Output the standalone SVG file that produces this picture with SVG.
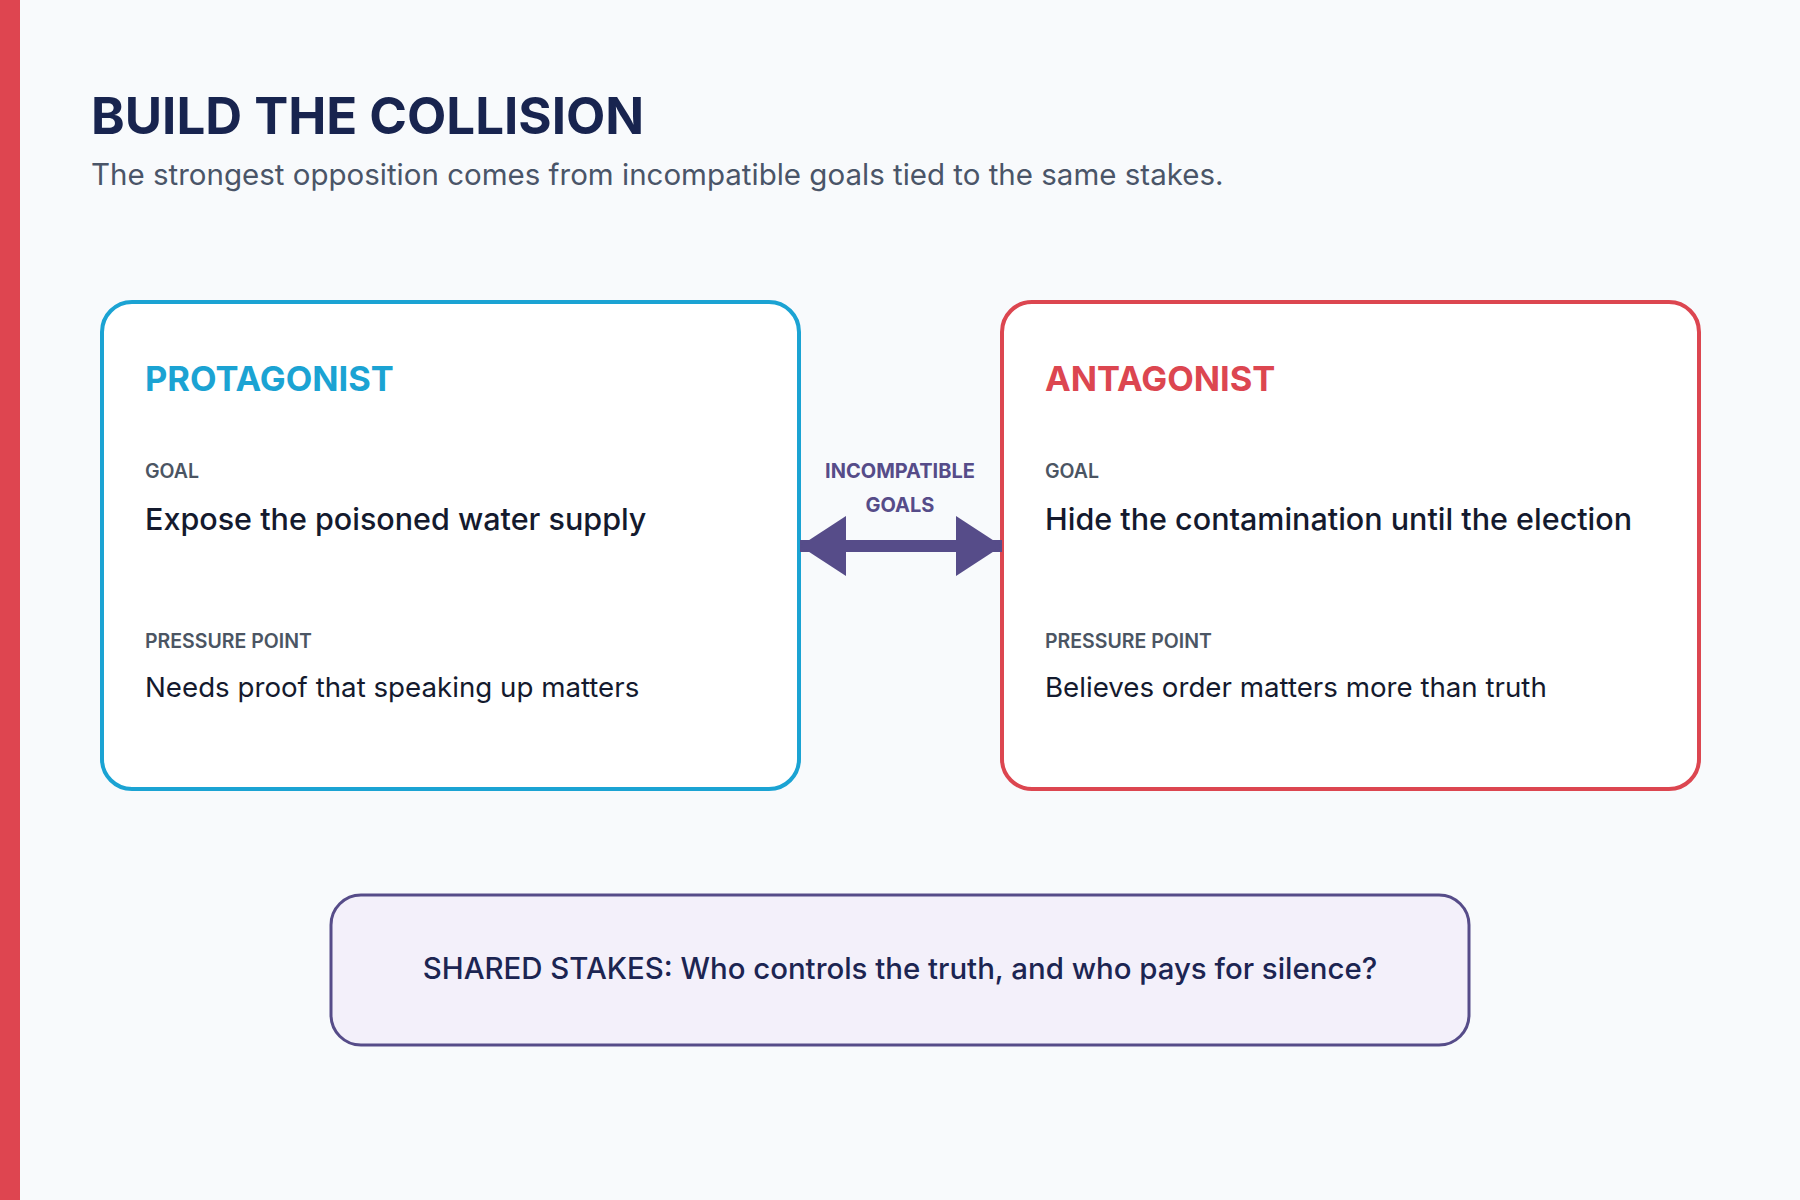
<svg xmlns="http://www.w3.org/2000/svg" width="1800" height="1200" viewBox="0 0 1800 1200">
<defs>
<style>
text{font-family:Inter,"Open Sans","Liberation Sans",sans-serif}
.title{font-size:51px;font-weight:700;fill:#18244f}
.sub{font-size:29.5px;font-weight:400;fill:#4a5568}
.card{fill:#ffffff;stroke-width:4}
.head{font-size:34.5px;font-weight:700}
.lbl{font-size:19.5px;font-weight:600;fill:#4b5563}
.goal{font-size:30.5px;font-weight:500;fill:#141a2e}
.body{font-size:27.7px;font-weight:400;fill:#141a2e}
.mid{font-size:20px;font-weight:700;fill:#564c89}
.stake{font-size:29.4px;font-weight:500;fill:#1c2552}
</style>
</defs>
<rect x="0" y="0" width="1800" height="1200" fill="#f8fafc"/>
<rect x="0" y="0" width="20" height="1200" fill="#de4550"/>
<text class="title" x="91" y="134">BUILD THE COLLISION</text>
<text class="sub" x="91" y="185">The strongest opposition comes from incompatible goals tied to the same stakes.</text>
<g id="protagonist">
<rect class="card" x="102" y="302" width="697" height="487" rx="30" stroke="#1ba3d3"/>
<text class="head" x="145" y="391" fill="#1ba3d3">PROTAGONIST</text>
<text class="lbl" x="145" y="478">GOAL</text>
<text class="goal" x="145" y="530">Expose the poisoned water supply</text>
<text class="lbl" x="145" y="648">PRESSURE POINT</text>
<text class="body" x="145" y="697">Needs proof that speaking up matters</text>
</g>
<g id="antagonist">
<rect class="card" x="1002" y="302" width="697" height="487" rx="30" stroke="#dc4650"/>
<text class="head" x="1045" y="391" fill="#dc4650">ANTAGONIST</text>
<text class="lbl" x="1045" y="478">GOAL</text>
<text class="goal" x="1045" y="530">Hide the contamination until the election</text>
<text class="lbl" x="1045" y="648">PRESSURE POINT</text>
<text class="body" x="1045" y="697">Believes order matters more than truth</text>
</g>
<g id="connectors">
<rect x="800" y="540" width="202" height="12" fill="#564c89"/>
<polygon points="800,546 846,516 846,576" fill="#564c89"/>
<polygon points="1002,546 956,516 956,576" fill="#564c89"/>
<text class="mid" x="900" y="478" text-anchor="middle">INCOMPATIBLE</text>
<text class="mid" x="900" y="512" text-anchor="middle">GOALS</text>
</g>
<g id="stakes">
<rect x="331" y="895" width="1138" height="150" rx="30" fill="#f3f0fa" stroke="#564c89" stroke-width="3"/>
<text class="stake" x="900" y="979" text-anchor="middle">SHARED STAKES: Who controls the truth, and who pays for silence?</text>
</g>
</svg>
